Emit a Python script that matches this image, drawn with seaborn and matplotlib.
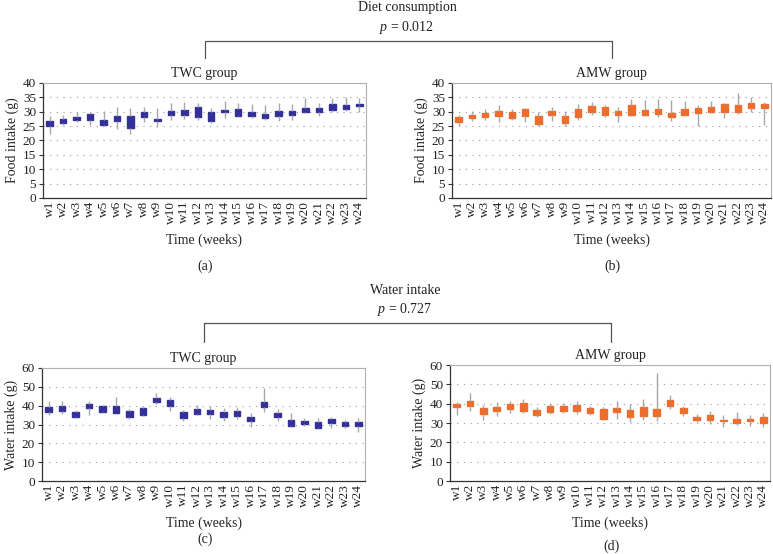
import matplotlib
matplotlib.use("Agg")
import matplotlib.pyplot as plt
import seaborn as sns
import pandas as pd
import numpy as np

# weeks
weeks = ["w%d" % i for i in range(1, 25)]

# Food intake, TWC group (min, q1, q3, max)
twc_food_low = [22.4, 25.4, 26.5, 25.4, 25.0, 24.1, 22.1, 26.4, 24.7, 27.2, 27.6, 27.2,
                26.1, 27.7, 28.2, 27.7, 27.0, 26.9, 27.2, 29.6, 28.6, 29.8, 30.1, 29.8]
twc_food_q1 = [25.0, 26.0, 27.2, 27.2, 25.5, 26.7, 24.3, 28.1, 26.7, 29.0, 29.0, 28.2,
               26.7, 29.8, 28.6, 28.5, 27.7, 28.5, 28.9, 29.8, 29.8, 30.7, 31.1, 32.1]
twc_food_q3 = [26.7, 27.5, 28.1, 29.2, 27.1, 28.4, 28.4, 29.8, 27.6, 30.4, 30.6, 31.5,
               29.8, 30.7, 31.1, 29.9, 29.3, 30.3, 30.3, 31.2, 31.2, 32.7, 32.3, 32.8]
twc_food_high = [28.4, 28.8, 29.8, 29.9, 30.4, 31.7, 31.4, 31.5, 31.3, 33.0, 33.5, 33.0,
                 31.3, 33.9, 33.0, 32.6, 32.2, 33.0, 32.6, 34.8, 33.2, 34.7, 35.1, 34.8]

# Food intake, AMW group
amw_food_low = [25.2, 26.9, 27.2, 26.3, 27.1, 26.4, 25.0, 26.7, 25.2, 27.3, 28.8, 28.1,
                26.5, 28.4, 28.5, 28.0, 26.7, 28.7, 25.0, 29.4, 27.7, 29.2, 29.9, 25.4]
amw_food_q1 = [26.4, 27.8, 28.1, 28.6, 27.9, 28.6, 25.9, 28.7, 26.2, 28.1, 30.0, 28.7,
               28.7, 29.0, 28.7, 29.2, 28.1, 29.0, 29.6, 29.9, 30.0, 29.9, 31.4, 31.4]
amw_food_q3 = [28.1, 28.7, 29.6, 30.3, 29.9, 30.8, 28.5, 30.3, 28.5, 30.8, 32.0, 31.5,
               30.4, 32.5, 30.7, 30.8, 29.6, 31.1, 31.2, 31.6, 32.6, 32.5, 33.0, 32.8]
amw_food_high = [29.0, 30.3, 30.8, 32.3, 30.8, 31.2, 29.9, 31.7, 30.2, 32.7, 33.4, 32.5,
                 31.7, 34.6, 34.0, 34.5, 34.0, 33.9, 32.2, 33.9, 33.1, 36.5, 35.2, 33.5]

# Water intake, TWC group
twc_water_low = [34.8, 35.7, 33.6, 34.8, 35.9, 35.9, 32.7, 34.5, 40.8, 37.0, 32.0, 34.8,
                 32.9, 31.7, 33.1, 28.9, 36.8, 32.0, 28.9, 29.2, 27.5, 28.0, 28.2, 26.0]
twc_water_q1 = [36.8, 37.0, 34.1, 38.7, 36.6, 36.2, 34.1, 34.8, 42.2, 39.8, 33.4, 35.5,
                35.4, 34.1, 34.7, 32.0, 39.4, 34.1, 29.4, 30.1, 28.0, 30.6, 29.2, 29.2]
twc_water_q3 = [39.4, 39.9, 36.8, 40.8, 39.8, 39.9, 37.3, 38.5, 44.0, 42.8, 36.6, 38.2,
                37.7, 36.6, 37.3, 34.0, 41.7, 36.1, 32.6, 32.0, 31.5, 32.9, 31.5, 31.5]
twc_water_high = [42.4, 42.4, 37.7, 42.4, 40.3, 44.5, 38.2, 39.2, 46.5, 44.5, 37.7, 40.3,
                  39.9, 38.9, 39.4, 36.2, 49.4, 38.2, 36.2, 33.3, 33.4, 33.8, 32.4, 33.3]

# Water intake, AMW group
amw_water_low = [34.1, 36.4, 31.6, 33.6, 35.0, 35.0, 32.9, 34.5, 35.0, 34.5, 34.0, 31.6,
                 31.9, 30.5, 31.6, 31.0, 37.1, 33.8, 30.7, 29.5, 28.1, 29.0, 28.6, 28.1]
amw_water_q1 = [38.4, 38.8, 34.8, 36.2, 37.4, 36.2, 34.3, 35.7, 36.2, 36.2, 35.0, 32.2,
                35.7, 33.1, 33.8, 33.8, 39.0, 35.0, 31.6, 31.6, 31.2, 29.8, 30.9, 30.2]
amw_water_q3 = [39.8, 41.6, 37.9, 38.4, 39.8, 40.2, 36.9, 38.6, 38.8, 39.5, 37.6, 37.4,
                37.6, 36.7, 38.4, 37.4, 41.7, 37.6, 32.9, 34.3, 31.7, 31.9, 32.2, 32.9]
amw_water_high = [41.0, 45.7, 39.3, 40.9, 41.4, 42.2, 38.4, 40.2, 40.2, 41.6, 39.0, 38.1,
                  41.6, 39.8, 42.2, 55.7, 44.3, 39.0, 34.5, 36.0, 34.1, 35.9, 34.0, 35.0]

twc_color = "#33309a"
amw_color = "#ec6d2c"
whisker_color = "#a8a8a8"

sns.set_style("white")
plt.rcParams["font.family"] = ["Liberation Serif", "DejaVu Serif"]
plt.rcParams["mathtext.fontset"] = "custom"
plt.rcParams["mathtext.it"] = "Liberation Serif:italic"
plt.rcParams["mathtext.rm"] = "Liberation Serif"
plt.rcParams["text.color"] = "#222222"

W, H = 773, 554
fig = plt.figure(figsize=(W / 100, H / 100), dpi=100)


def long_form(low, q1, q3, high):
    # five points per week: 25th/75th percentile of them are q1/q3 exactly
    rows = []
    for w, a, b, c, d in zip(weeks, low, q1, q3, high):
        for v in (a, b, (b + c) / 2, c, d):
            rows.append({"week": w, "value": v})
    return pd.DataFrame(rows)


def px_axes(x0, y0, x1, y1):
    return fig.add_axes([x0 / W, 1 - y1 / H, (x1 - x0) / W, (y1 - y0) / H])


def panel(box, df, color, title, ylabel, ymax, ystep):
    ax = px_axes(*box)
    sns.boxplot(data=df, x="week", y="value", ax=ax, color=color, width=0.48,
                whis=(0, 100), showcaps=False, fliersize=0, linewidth=1,
                boxprops={"facecolor": color, "edgecolor": color},
                whiskerprops={"color": whisker_color, "linewidth": 1},
                medianprops={"linewidth": 0})
    ax.set_xlim(-0.5, 23.5)
    ax.set_ylim(0, ymax)
    ax.set_yticks(np.arange(0, ymax + 0.1, ystep))
    ax.set_xticks(range(24))
    ax.set_xticklabels(weeks, rotation=90, fontsize=9.5)
    ax.set_xticks(np.arange(-0.5, 24, 1), minor=True)
    ax.tick_params(axis="x", which="major", length=0, pad=2, labelcolor="#222222")
    ax.tick_params(axis="x", which="minor", length=3.5, width=0.8, color="#333333", direction="out")
    ax.tick_params(axis="y", length=3, width=0.8, color="#333333", labelsize=9.5, pad=2,
                   left=True, labelcolor="#222222")
    for y in np.arange(ystep, ymax, ystep):
        ax.axhline(y, color="#9a9a9a", linewidth=0.8, linestyle=(0, (1, 5)), zorder=0)
    for s in ["top", "right"]:
        ax.spines[s].set_color("#b0b0b0")
        ax.spines[s].set_linewidth(0.8)
    for s in ["left", "bottom"]:
        ax.spines[s].set_color("#333333")
        ax.spines[s].set_linewidth(0.9)
    ax.set_title(title, fontsize=10, pad=4)
    ax.set_xlabel("Time (weeks)", fontsize=10, labelpad=7)
    ax.set_ylabel(ylabel, fontsize=10, labelpad=3)
    return ax


panel((43, 83, 366, 198), long_form(twc_food_low, twc_food_q1, twc_food_q3, twc_food_high),
      twc_color, "TWC group", "Food intake (g)", 40, 5)
panel((452, 83, 771, 198), long_form(amw_food_low, amw_food_q1, amw_food_q3, amw_food_high),
      amw_color, "AMW group", "Food intake (g)", 40, 5)
panel((42, 368, 365, 481), long_form(twc_water_low, twc_water_q1, twc_water_q3, twc_water_high),
      twc_color, "TWC group", "Water intake (g)", 60, 10)
panel((450, 365, 770, 481), long_form(amw_water_low, amw_water_q1, amw_water_q3, amw_water_high),
      amw_color, "AMW group", "Water intake (g)", 60, 10)


def ftext(x, y, s, **kw):
    fig.text(x / W, 1 - y / H, s, ha="center", va="center", fontsize=10, **kw)


def bracket(x0, x1, ytop, ybot):
    xs = [x0 / W, x0 / W, x1 / W, x1 / W]
    ys = [1 - ybot / H, 1 - ytop / H, 1 - ytop / H, 1 - ybot / H]
    fig.add_artist(plt.Line2D(xs, ys, transform=fig.transFigure, color="#555555", linewidth=0.9))


ftext(407, 8, "Diet consumption")
ftext(407, 27, "$p$ = 0.012")
bracket(205, 612, 41, 58)
ftext(405, 290, "Water intake")
ftext(405, 309, "$p$ = 0.727")
bracket(204, 611, 323, 342)

ftext(205, 266, "(a)")
ftext(612, 266, "(b)")
ftext(205, 539, "(c)")
ftext(612, 546, "(d)")

fig.savefig("out.png", dpi=100)
